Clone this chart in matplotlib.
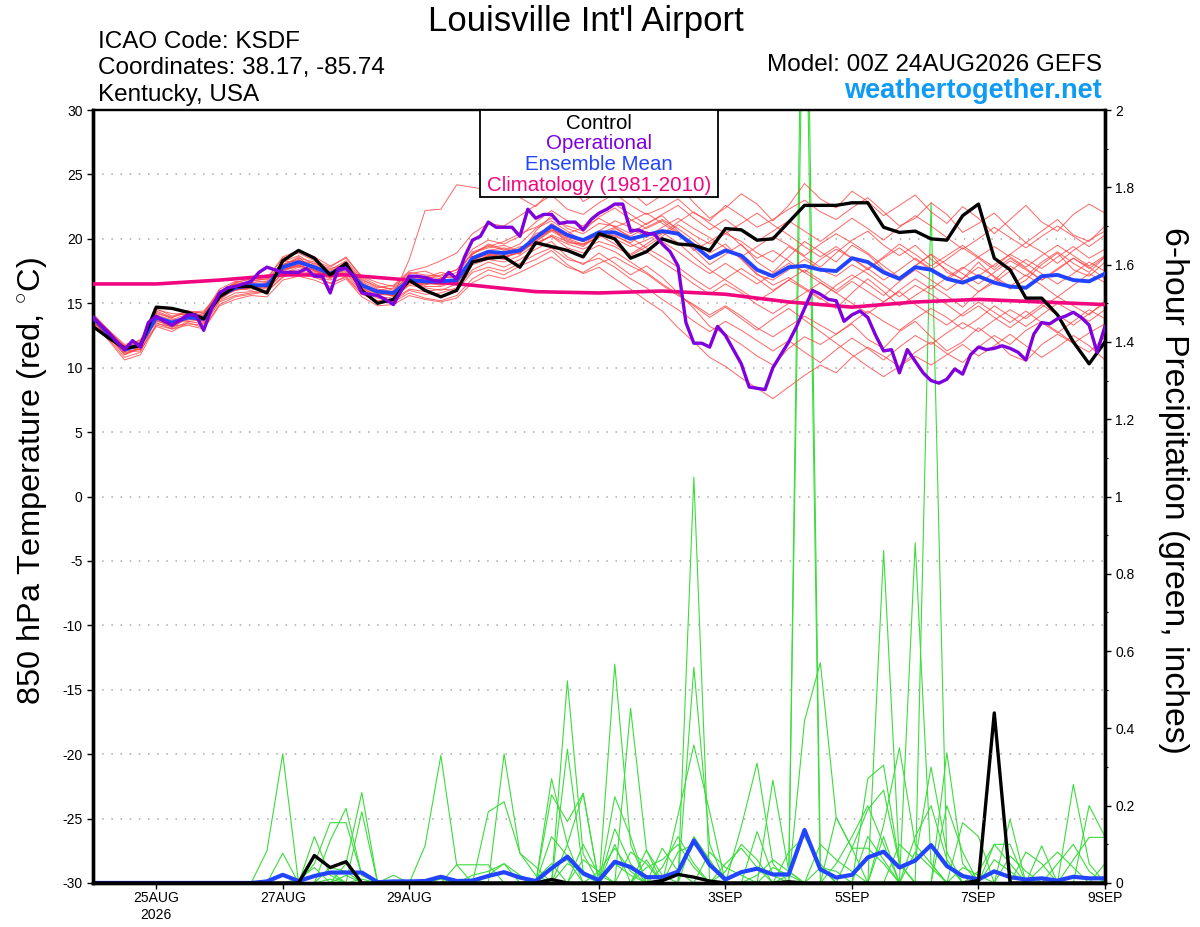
import numpy as np
import matplotlib
matplotlib.use("Agg")
import matplotlib.pyplot as plt
from matplotlib.patches import Rectangle
from matplotlib.ticker import FuncFormatter, MultipleLocator

plt.rcParams["font.family"] = ["Liberation Sans", "DejaVu Sans"]
plt.rcParams["mathtext.fontset"] = "custom"
plt.rcParams["mathtext.rm"] = "Liberation Sans"
plt.rcParams["axes.unicode_minus"] = False

# forecast hours from 00Z 24AUG2026
hours6 = np.arange(0, 385, 6)
hours3 = np.arange(0, 385, 3)
clim_hours = np.arange(0, 385, 24)

tick_hours = [24, 72, 120, 192, 240, 288, 336, 384]
tick_labels = ["25AUG\n2026", "27AUG", "29AUG", "1SEP", "3SEP", "5SEP", "7SEP", "9SEP"]

# 850 hPa temperature (C)
control_t = [
    13.2, 12.3, 11.5, 11.7, 14.7, 14.6, 14.3, 13.8, 15.5, 16.3, 16.3, 15.8, 18.3,
    19.1, 18.5, 17.2, 18.1, 16.0, 15.0, 15.3, 16.8, 16.0, 15.5, 16.0, 18.2, 18.5,
    18.6, 17.8, 19.7, 19.4, 19.1, 18.6, 20.4, 20.0, 18.5, 19.0, 20.0, 19.6, 19.5,
    19.1, 20.8, 20.7, 19.9, 20.0, 21.3, 22.6, 22.6, 22.6, 22.8, 22.8, 20.9, 20.5,
    20.6, 20.0, 19.9, 21.8, 22.7, 18.5, 17.6, 15.4, 15.4, 14.1, 12.0, 10.3, 12.0,
]
mean_t = [
    13.9, 12.6, 11.4, 11.8, 13.9, 13.5, 13.9, 13.8, 15.6, 16.2, 16.4, 16.4, 17.8,
    18.2, 17.8, 17.3, 17.8, 16.4, 15.9, 15.8, 16.8, 16.7, 16.7, 16.8, 18.5, 19.0,
    18.9, 19.1, 20.1, 21.0, 20.3, 19.9, 20.5, 20.5, 20.0, 20.3, 20.6, 20.4, 19.5,
    18.5, 19.1, 18.7, 17.6, 17.1, 17.8, 17.9, 17.6, 17.5, 18.5, 18.2, 17.4, 16.9,
    17.8, 17.6, 16.9, 16.6, 17.1, 16.6, 16.3, 16.2, 17.1, 17.2, 16.8, 16.7, 17.3,
]
oper_t = [
    13.9, 13.3, 12.7, 12.0, 11.4, 12.1, 11.6, 13.5,
    14.0, 13.6, 13.3, 13.7, 14.1, 14.1, 12.9, 14.6,
    15.8, 16.2, 16.3, 16.5, 16.7, 17.4, 17.8, 17.6,
    17.4, 17.4, 17.4, 17.7, 17.1, 17.1, 15.8, 17.7,
    17.7, 17.1, 15.8, 15.7, 15.6, 15.3, 14.9, 16.0,
    17.1, 17.1, 17.0, 16.8, 16.7, 17.4, 16.9, 18.6,
    19.9, 20.2, 21.3, 20.9, 20.9, 20.9, 20.2, 22.3,
    21.6, 21.9, 21.9, 21.2, 21.3, 21.3, 20.7, 21.5,
    22.0, 22.3, 22.7, 22.7, 20.6, 20.7, 20.4, 20.4,
    19.6, 19.0, 17.9, 13.5, 11.9, 11.9, 11.6, 13.2,
    12.5, 11.4, 10.3, 8.5, 8.4, 8.3, 10.0, 11.0,
    12.0, 13.2, 14.6, 16.0, 15.7, 15.3, 15.2, 13.6,
    14.1, 14.4, 13.9, 12.5, 11.3, 11.4, 9.6, 11.4,
    10.5, 9.6, 9.0, 8.8, 9.1, 9.9, 9.5, 11.0,
    11.6, 11.4, 11.5, 11.7, 11.5, 11.2, 10.6, 12.6,
    13.5, 13.4, 13.8, 14.0, 14.3, 13.9, 13.3, 11.2,
    13.2,
]
clim_t = [16.5, 16.5, 16.8, 17.2, 17.2, 16.8, 16.4, 15.9, 15.8,
          15.95, 15.7, 15.1, 14.7, 15.1, 15.3, 15.1, 14.9]

members_t = [
    [13.6, 12.4, 11.0, 11.5, 14.2, 13.9, 14.4, 14.0, 15.9, 16.6, 16.9, 16.8, 18.2,
     18.7, 18.0, 17.6, 18.3, 16.9, 16.2, 16.4, 17.5, 17.8, 18.3, 18.9, 20.4, 21.2,
     21.0, 21.8, 22.6, 23.4, 22.3, 21.9, 22.8, 23.5, 22.6, 21.9, 22.4, 23.1, 22.0,
     21.4, 22.6, 21.8, 20.9, 21.5, 22.3, 23.0, 22.1, 21.5, 22.4, 23.2, 22.1, 21.0,
     21.6, 22.8, 21.9, 20.5, 21.2, 22.0, 20.8, 19.7, 20.6, 21.5, 20.3, 19.8, 21.0],
    [14.1, 12.8, 11.7, 12.0, 13.5, 13.0, 13.6, 13.4, 15.2, 15.8, 15.9, 16.0, 17.4,
     17.6, 17.2, 16.5, 17.1, 15.8, 15.0, 15.2, 16.0, 15.7, 15.8, 16.2, 17.6, 18.2,
     17.8, 18.4, 19.2, 19.8, 18.6, 18.0, 18.9, 18.1, 17.2, 17.9, 17.0, 15.8, 14.6,
     13.2, 12.6, 11.8, 10.9, 10.2, 11.5, 12.4, 11.8, 12.6, 13.4, 12.2, 11.5, 12.8,
     13.6, 12.4, 11.3, 12.0, 13.1, 12.2, 11.0, 10.5, 11.8, 12.6, 11.9, 11.2, 12.4],
    [13.8, 12.2, 10.8, 11.2, 13.8, 13.2, 13.8, 14.2, 15.5, 16.0, 16.6, 16.2, 17.9,
     18.6, 17.5, 17.0, 18.0, 16.2, 15.5, 15.4, 16.4, 16.2, 16.0, 16.5, 18.8, 19.6,
     19.2, 18.8, 20.6, 21.8, 20.8, 20.4, 21.2, 21.0, 20.4, 21.2, 21.8, 20.6, 19.2,
     18.0, 18.8, 19.6, 18.2, 17.4, 18.6, 19.8, 19.0, 18.2, 19.5, 18.8, 17.6, 16.8,
     17.9, 18.8, 17.4, 16.9, 18.2, 17.0, 16.1, 16.8, 18.0, 18.9, 17.6, 17.1, 18.2],
    [13.5, 12.6, 11.2, 11.9, 14.0, 13.6, 14.0, 13.9, 15.8, 16.5, 16.4, 16.2, 17.6,
     18.0, 17.9, 17.5, 18.1, 16.6, 15.8, 15.6, 18.4, 22.2, 22.3, 24.2, 24.0, 23.8,
     24.6, 23.2, 22.5, 23.8, 24.5, 22.9, 23.6, 24.8, 23.7, 22.6, 23.4, 24.2, 22.8,
     21.6, 22.4, 23.5, 22.7, 21.4, 22.6, 24.3, 23.1, 22.4, 23.7, 22.9, 21.8, 22.6,
     23.4, 22.1, 21.2, 22.5, 21.6, 20.4, 21.5, 22.6, 21.3, 20.6, 21.9, 22.7, 22.0],
    [14.0, 12.7, 11.6, 11.4, 13.2, 12.8, 13.5, 13.1, 14.9, 15.5, 15.7, 15.9, 17.0,
     17.5, 17.1, 16.8, 17.3, 15.9, 15.4, 15.1, 15.8, 15.4, 15.2, 15.6, 16.9, 17.6,
     17.2, 17.9, 18.4, 19.1, 18.0, 17.3, 17.8, 16.9, 16.1, 15.2, 14.4, 13.1, 12.0,
     10.8, 10.1, 9.2, 8.4, 7.6, 8.5, 9.4, 10.2, 9.6, 10.8, 11.6, 10.9, 10.1,
     11.2, 12.0, 11.1, 10.4, 11.6, 12.5, 11.8, 12.9, 13.6, 12.8, 11.9, 12.7, 13.4],
    [13.7, 12.5, 11.3, 11.8, 14.5, 14.2, 14.1, 13.6, 15.4, 16.4, 16.7, 16.9, 18.5,
     18.9, 18.3, 17.8, 18.6, 17.0, 16.4, 16.0, 17.2, 17.0, 17.4, 17.1, 19.0, 19.4,
     19.8, 20.4, 20.9, 21.6, 21.0, 20.6, 21.7, 22.4, 21.5, 20.8, 21.4, 20.5, 19.6,
     18.4, 19.2, 18.5, 17.3, 16.4, 17.0, 16.2, 15.4, 14.6, 15.8, 16.9, 15.9, 14.8,
     15.6, 16.4, 15.6, 14.7, 15.9, 16.8, 17.9, 17.1, 18.2, 19.0, 18.1, 17.4, 18.6],
    [14.2, 12.9, 11.5, 12.2, 14.0, 13.4, 13.7, 14.1, 16.0, 16.0, 16.2, 16.6, 17.5,
     17.9, 17.6, 17.0, 17.4, 16.1, 15.6, 15.9, 16.6, 16.4, 16.9, 17.2, 18.2, 18.6,
     18.4, 19.3, 19.7, 20.2, 19.6, 19.2, 19.8, 19.4, 18.7, 19.4, 20.2, 21.1, 20.3,
     19.6, 20.4, 19.8, 18.9, 18.2, 19.4, 18.6, 17.8, 18.9, 19.9, 20.6, 19.5, 18.7,
     19.5, 18.4, 17.6, 16.8, 15.9, 16.6, 17.5, 18.4, 17.7, 18.6, 19.4, 18.5, 19.2],
    [13.9, 12.3, 11.1, 11.6, 13.7, 13.1, 13.9, 13.5, 15.6, 16.2, 16.0, 16.4, 18.0,
     18.4, 17.9, 17.1, 17.6, 16.6, 15.9, 15.7, 16.9, 16.6, 16.4, 16.9, 18.4, 18.8,
     18.6, 19.0, 20.4, 20.9, 19.7, 19.6, 20.1, 20.8, 20.2, 20.9, 21.5, 20.8, 19.9,
     18.9, 19.6, 18.4, 17.2, 16.8, 17.6, 18.4, 17.6, 17.1, 18.0, 17.3, 16.4, 15.5,
     16.4, 15.7, 14.9, 14.0, 14.8, 13.9, 13.1, 14.0, 14.9, 14.1, 13.3, 14.2, 15.0],
    [13.4, 12.1, 10.6, 11.0, 13.3, 13.0, 13.3, 13.0, 14.8, 15.3, 15.6, 15.5, 16.8,
     17.1, 16.8, 16.3, 16.9, 15.5, 14.8, 14.9, 15.6, 15.3, 15.1, 15.4, 16.6, 17.2,
     16.9, 17.4, 18.0, 18.6, 17.8, 17.4, 18.1, 18.6, 17.9, 17.3, 16.4, 15.6, 14.9,
     14.1, 14.8, 14.0, 13.1, 12.4, 13.2, 14.0, 13.3, 12.6, 13.5, 14.4, 13.6, 12.9,
     13.8, 14.6, 13.9, 13.0, 13.8, 14.8, 14.0, 13.2, 14.1, 15.0, 14.3, 13.6, 14.5],
    [13.6, 12.6, 11.4, 11.7, 14.1, 13.7, 14.2, 14.3, 15.7, 16.3, 16.8, 16.6, 17.7,
     18.1, 17.7, 17.4, 18.2, 16.7, 16.1, 15.9, 16.9, 17.1, 16.9, 17.4, 18.9, 19.3,
     19.5, 19.0, 20.0, 21.2, 20.4, 20.9, 21.6, 20.9, 21.4, 22.0, 21.2, 20.4, 19.1,
     19.8, 20.6, 19.5, 18.5, 19.1, 18.3, 17.4, 18.4, 19.2, 18.5, 17.7, 18.6, 19.6,
     18.8, 17.9, 18.7, 19.5, 18.6, 17.8, 18.8, 19.7, 19.0, 18.1, 19.1, 19.9, 20.6],
    [14.0, 12.9, 11.8, 12.1, 13.6, 13.3, 13.8, 13.8, 15.3, 16.1, 16.3, 16.1, 17.3,
     17.8, 17.4, 16.9, 17.7, 16.3, 16.0, 15.5, 16.5, 16.5, 16.6, 16.5, 18.1, 18.7,
     18.9, 19.4, 19.5, 20.3, 19.8, 19.4, 20.3, 20.0, 19.4, 19.9, 20.5, 19.7, 18.6,
     17.6, 16.8, 16.0, 15.2, 15.9, 16.8, 16.1, 15.3, 16.4, 17.2, 16.5, 15.6, 16.7,
     17.6, 16.8, 16.0, 16.9, 17.8, 17.1, 16.3, 17.2, 16.4, 15.5, 16.4, 17.3, 16.6],
    [13.9, 12.7, 11.3, 11.9, 14.3, 13.8, 13.6, 13.7, 15.9, 16.5, 16.6, 16.7, 18.2,
     18.3, 18.1, 17.7, 18.0, 16.8, 16.3, 16.1, 17.0, 16.9, 17.2, 17.6, 18.8, 19.5,
     19.1, 19.6, 20.8, 21.4, 20.6, 19.8, 20.6, 21.4, 20.9, 20.1, 20.9, 21.6, 20.8,
     20.1, 19.3, 18.6, 19.4, 20.2, 19.5, 18.7, 19.6, 20.4, 19.7, 18.9, 17.9, 17.0,
     17.9, 18.8, 18.0, 17.3, 16.5, 17.4, 18.3, 17.6, 16.8, 17.7, 18.5, 17.8, 16.9],
    [13.8, 12.5, 11.2, 11.3, 13.4, 13.2, 13.4, 13.3, 15.1, 15.6, 15.8, 15.9, 17.1,
     17.3, 17.0, 16.6, 17.0, 15.7, 15.2, 15.3, 16.1, 15.9, 16.1, 16.0, 17.4, 17.8,
     17.5, 18.1, 18.8, 19.3, 18.4, 18.1, 18.5, 17.8, 16.9, 16.2, 15.3, 14.5, 13.6,
     12.8, 13.6, 12.9, 12.1, 11.3, 12.1, 11.2, 10.4, 11.4, 12.3, 11.5, 10.6, 11.6,
     12.5, 11.8, 12.7, 13.5, 12.8, 13.7, 14.5, 13.8, 14.7, 15.5, 14.8, 14.1, 15.2],
    [13.5, 12.4, 11.5, 11.8, 14.6, 14.0, 14.4, 14.2, 16.1, 16.7, 16.5, 16.3, 18.0,
     18.5, 18.2, 17.3, 17.9, 16.5, 16.0, 16.2, 17.3, 17.5, 17.0, 17.0, 18.6, 19.1,
     19.3, 18.9, 19.8, 20.7, 20.2, 19.9, 20.6, 20.2, 19.7, 20.6, 19.8, 19.0, 18.1,
     17.3, 18.1, 17.3, 16.5, 17.3, 18.1, 17.4, 16.6, 15.8, 16.7, 15.9, 15.1, 16.0,
     16.9, 16.1, 17.0, 17.8, 17.1, 18.0, 18.8, 18.1, 17.3, 16.5, 17.3, 18.2, 17.5],
    [14.1, 12.6, 11.4, 11.7, 13.8, 13.5, 13.9, 13.9, 15.5, 16.0, 16.3, 16.5, 17.7,
     18.0, 17.5, 17.2, 17.7, 16.4, 15.7, 15.8, 16.7, 16.5, 16.5, 16.6, 18.3, 18.9,
     18.7, 19.2, 20.0, 20.7, 20.0, 19.6, 20.4, 20.9, 20.1, 19.3, 18.6, 17.8, 16.9,
     16.1, 16.9, 17.7, 16.9, 16.0, 16.8, 17.6, 16.8, 16.0, 16.9, 17.7, 16.8, 17.6,
     18.5, 17.7, 16.8, 17.7, 18.6, 19.4, 18.6, 17.8, 18.7, 19.5, 18.7, 17.9, 18.7],
    [13.7, 12.8, 11.6, 12.0, 13.9, 13.3, 14.0, 13.7, 15.7, 16.3, 16.5, 16.4, 17.9,
     18.2, 17.8, 17.3, 17.8, 16.4, 16.0, 15.8, 16.8, 16.8, 16.7, 16.8, 18.5, 19.0,
     18.9, 19.1, 20.1, 21.0, 20.3, 19.9, 20.5, 20.5, 20.0, 20.3, 20.6, 20.4, 19.5,
     18.5, 19.1, 18.7, 17.6, 17.1, 17.8, 17.9, 17.6, 17.5, 18.5, 18.2, 17.4, 16.9,
     17.8, 17.6, 16.9, 16.6, 17.1, 16.6, 16.3, 16.2, 17.1, 17.2, 16.8, 16.7, 17.3],
    [13.8, 12.5, 11.0, 11.6, 14.0, 13.6, 13.8, 13.6, 15.3, 16.1, 16.4, 16.3, 17.6,
     17.9, 17.6, 17.0, 17.5, 16.2, 15.7, 15.6, 16.6, 16.3, 16.3, 16.7, 18.0, 18.4,
     18.2, 18.7, 19.6, 20.2, 19.3, 18.9, 19.5, 19.0, 18.2, 17.4, 16.5, 15.7, 14.8,
     13.9, 14.7, 13.8, 12.9, 13.8, 14.6, 13.7, 12.8, 11.9, 11.0, 10.1, 9.3, 10.1,
     10.9, 10.2, 11.0, 11.8, 10.9, 11.7, 12.6, 11.7, 10.8, 11.6, 12.5, 11.7, 10.6],
    [13.6, 12.3, 11.3, 11.4, 14.4, 13.9, 14.3, 14.4, 15.8, 16.6, 16.9, 16.9, 18.6,
     19.1, 18.6, 17.9, 18.5, 17.1, 16.6, 16.3, 17.4, 17.2, 17.1, 17.6, 19.2, 19.9,
     19.6, 20.2, 21.3, 22.2, 21.4, 21.0, 21.9, 22.7, 21.9, 21.1, 21.9, 22.6, 21.6,
     20.7, 21.5, 20.6, 19.8, 20.6, 21.4, 20.6, 19.8, 20.7, 21.6, 20.8, 19.9, 20.9,
     21.8, 21.0, 20.1, 19.2, 20.0, 20.9, 20.1, 19.3, 20.2, 21.0, 20.2, 19.4, 20.3],
    [14.0, 12.8, 11.4, 11.9, 13.7, 13.4, 13.8, 13.9, 15.6, 16.2, 16.3, 16.4, 17.8,
     18.1, 17.8, 17.4, 17.9, 16.5, 15.9, 15.9, 16.8, 16.6, 16.5, 16.9, 18.4, 18.8,
     18.5, 19.0, 19.9, 20.8, 20.1, 19.8, 20.3, 19.6, 18.8, 19.6, 20.4, 21.3, 22.1,
     21.2, 20.4, 21.2, 22.0, 21.1, 20.3, 19.4, 18.6, 19.4, 18.5, 17.6, 18.5, 19.3,
     18.4, 17.6, 18.4, 19.3, 18.5, 17.6, 18.5, 17.7, 16.8, 17.6, 18.5, 17.7, 18.6],
    [13.9, 12.6, 11.7, 11.8, 13.9, 13.5, 13.9, 13.8, 15.5, 16.1, 16.2, 16.3, 17.6,
     17.9, 17.6, 17.2, 17.7, 16.3, 15.8, 15.7, 16.6, 16.5, 16.6, 16.6, 18.2, 18.7,
     18.6, 18.9, 19.8, 20.6, 19.9, 19.5, 20.2, 20.3, 19.6, 19.0, 18.2, 17.4, 16.5,
     15.7, 16.5, 15.8, 14.9, 14.2, 15.0, 15.8, 16.6, 15.8, 15.0, 14.2, 15.1, 15.9,
     14.9, 14.1, 13.3, 14.2, 15.1, 14.3, 13.5, 14.4, 13.5, 12.7, 13.6, 14.5, 13.8],
]

# 6-hour precipitation (inches)
mean_p = [
    0, 0, 0, 0, 0, 0, 0, 0, 0, 0,
    0.0, 0.004, 0.021, 0.005, 0.018, 0.027, 0.027, 0.027, 0.002, 0.004, 0.004,
    0.005, 0.016, 0.005, 0.006, 0.018, 0.028, 0.014, 0.005, 0.038, 0.068, 0.025,
    0.007, 0.055, 0.041, 0.015, 0.015, 0.029, 0.11, 0.047, 0.009, 0.028, 0.037,
    0.022, 0.022, 0.137, 0.035, 0.014, 0.021, 0.066, 0.081, 0.040, 0.058, 0.098,
    0.044, 0.018, 0.009, 0.030, 0.015, 0.009, 0.012, 0.006, 0.016, 0.012, 0.012,
]
control_p = {84: 0.071, 90: 0.040, 96: 0.055, 174: 0.009, 216: 0.006,
             222: 0.022, 228: 0.015, 234: 0.005, 264: 0.003, 336: 0.006, 342: 0.44}
members_p = [
    {66: 0.083, 72: 0.334, 126: 0.096, 132: 0.33, 138: 0.047, 180: 0.523,
     186: 0.075, 228: 1.05, 300: 0.12, 372: 0.255, 378: 0.05},
    {72: 0.077, 84: 0.12, 90: 0.02, 156: 0.334, 162: 0.077, 168: 0.02, 198: 0.566,
     204: 0.1, 228: 0.558, 234: 0.1, 270: 2.9, 276: 0.05, 330: 0.156, 336: 0.12},
    {84: 0.05, 90: 0.156, 96: 0.156, 102: 0.02, 180: 0.346, 186: 0.03, 204: 0.452,
     210: 0.085, 264: 0.02, 270: 2.6, 348: 0.165},
    {90: 0.11, 96: 0.193, 102: 0.02, 150: 0.184, 156: 0.21, 162: 0.077, 168: 0.042,
     222: 0.176, 228: 0.357, 234: 0.184, 318: 1.76, 324: 0.05},
    {96: 0.05, 102: 0.234, 174: 0.27, 180: 0.10, 186: 0.232, 198: 0.223, 204: 0.12,
     270: 0.42, 276: 0.57, 282: 0.17, 288: 0.09},
    {102: 0.184, 138: 0.047, 144: 0.047, 150: 0.047, 174: 0.228, 180: 0.159,
     186: 0.232, 246: 0.146, 252: 0.31, 258: 0.05, 300: 0.86, 306: 0.05, 360: 0.096},
    {114: 0.02, 144: 0.02, 150: 0.03, 156: 0.05, 198: 0.14, 204: 0.05, 216: 0.09,
     222: 0.03, 258: 0.266, 264: 0.03, 312: 0.88, 318: 0.05, 342: 0.1, 348: 0.1},
    {78: 0.01, 84: 0.04, 180: 0.10, 198: 0.10, 210: 0.06, 252: 0.133, 258: 0.02,
     294: 0.27, 300: 0.305, 306: 0.05, 324: 0.337, 330: 0.05},
    {84: 0.02, 90: 0.03, 168: 0.01, 174: 0.05, 186: 0.06, 192: 0.03, 222: 0.08,
     228: 0.1, 234: 0.05, 282: 0.17, 288: 0.09, 294: 0.19, 300: 0.24, 306: 0.05,
     324: 0.2, 330: 0.08},
    {90: 0.04, 96: 0.03, 180: 0.05, 186: 0.03, 210: 0.085, 216: 0.02, 240: 0.05,
     246: 0.09, 252: 0.04, 288: 0.09, 294: 0.09, 300: 0.05, 336: 0.03, 342: 0.1,
     348: 0.05, 372: 0.06, 378: 0.118, 384: 0.118},
    {96: 0.02, 132: 0.01, 144: 0.01, 174: 0.04, 180: 0.06, 198: 0.05, 204: 0.02,
     228: 0.12, 234: 0.06, 276: 0.04, 282: 0.03, 294: 0.12, 300: 0.06, 312: 0.08,
     318: 0.04, 354: 0.08, 360: 0.05, 378: 0.2, 384: 0.12},
    {150: 0.02, 156: 0.05, 162: 0.02, 192: 0.03, 198: 0.09, 204: 0.03, 240: 0.03,
     246: 0.1, 252: 0.06, 264: 0.08, 270: 0.12, 276: 0.04, 306: 0.1, 312: 0.06,
     318: 0.3, 324: 0.08, 366: 0.05, 372: 0.1, 378: 0.03},
    {90: 0.01, 102: 0.01, 186: 0.1, 192: 0.02, 210: 0.04, 216: 0.06, 222: 0.1,
     228: 0.04, 258: 0.04, 264: 0.02, 282: 0.05, 288: 0.12, 294: 0.2, 300: 0.1,
     330: 0.04, 336: 0.02, 348: 0.07, 354: 0.03},
    {174: 0.12, 180: 0.07, 186: 0.02, 216: 0.04, 222: 0.12, 228: 0.05, 252: 0.02,
     258: 0.06, 264: 0.03, 300: 0.15, 306: 0.35, 312: 0.1, 318: 0.05, 360: 0.04,
     366: 0.08, 372: 0.04},
    {204: 0.08, 210: 0.05, 234: 0.08, 240: 0.04, 246: 0.02, 276: 0.1, 282: 0.06,
     288: 0.03, 312: 0.12, 318: 0.2, 324: 0.06, 342: 0.06, 348: 0.03, 384: 0.05},
]


def expand(sparse):
    return [sparse.get(int(h), 0.0) for h in hours6]


fig = plt.figure(figsize=(12, 9.27), dpi=100)
ax = fig.add_axes([0.0775, 0.0475, 0.8433, 0.8338])
ax2 = ax.twinx()
ax.set_zorder(ax2.get_zorder() + 1)
ax.patch.set_visible(False)

# precipitation (right axis)
for m in members_p:
    ax2.plot(hours6, expand(m), color="#3cdc3c", lw=0.8, zorder=1)
ax2.plot(hours6, mean_p, color="#2244ff", lw=3, zorder=3)
ax2.plot(hours6, expand(control_p), color="black", lw=2.4, zorder=4)

# temperature (left axis)
for m in members_t:
    ax.plot(hours6, m, color="#ff4040", lw=0.7, alpha=0.8, zorder=2)
ax.plot(clim_hours, clim_t, color="#f0067f", lw=2.6, zorder=3)
ax.plot(hours6, mean_t, color="#2244ff", lw=2.8, zorder=4)
ax.plot(hours6, control_t, color="black", lw=2.4, zorder=5)
ax.plot(hours3, oper_t, color="#7f00dd", lw=2.4, zorder=6)

ax.set_xlim(0, 384)
ax.set_ylim(-30, 30)
ax2.set_ylim(0, 2)
ax.set_yticks(np.arange(-30, 31, 5))
ax2.set_yticks(np.arange(0, 2.01, 0.2))
ax2.yaxis.set_minor_locator(MultipleLocator(0.1))
ax2.yaxis.set_major_formatter(FuncFormatter(lambda v, p: f"{v:g}"))
ax.set_xticks(tick_hours)
ax.set_xticklabels(tick_labels)

for y in np.arange(-25, 30, 5):
    ax.axhline(y, color="#aaaaaa", lw=1.1, ls=(0, (1, 5)), zorder=1)

for a in (ax, ax2):
    a.tick_params(labelsize=10, length=4, width=1, direction="out")
    for s in ("left", "right", "bottom"):
        a.spines[s].set_linewidth(2.4)
    a.spines["top"].set_linewidth(1.6)
ax2.tick_params(which="minor", length=2.5, width=0.8)
ax.tick_params(axis="x", pad=2)

# legend box
ax.add_patch(Rectangle((0.3824, 0.8874), 0.2352, 0.1126, transform=ax.transAxes,
                       facecolor="white", edgecolor="black", lw=1.3, zorder=10))
legend_items = [("Control", "black"), ("Operational", "#7f00dd"),
                ("Ensemble Mean", "#2244ff"), ("Climatology (1981-2010)", "#f0067f")]
for (label, col), yy in zip(legend_items, [0.983, 0.957, 0.930, 0.902]):
    ax.text(0.5, yy, label, color=col, fontsize=14.8, ha="center", va="center",
            transform=ax.transAxes, zorder=11)

# header texts
fig.text(0.488, 0.977, "Louisville Int'l Airport", fontsize=25, ha="center", va="center")
for txt, yy in zip(["ICAO Code: KSDF", "Coordinates: 38.17, -85.74", "Kentucky, USA"],
                   [0.9545, 0.9265, 0.8975]):
    fig.text(0.0817, yy, txt, fontsize=17.5, ha="left", va="center")
fig.text(0.9183, 0.930, "Model: 00Z 24AUG2026 GEFS", fontsize=17.5, ha="right", va="center")
fig.text(0.9183, 0.9015, "weathertogether.net", fontsize=19.5, ha="right", va="center",
         color="#0f9bf5", fontweight="bold")

fig.text(0.0275, 1 - 481 / 927, r"850 hPa Temperature (red, $^{\circ}$C)", fontsize=23.4,
         rotation=90, ha="center", va="center")
fig.text(0.978, 1 - 490 / 927, "6-hour Precipitation (green, inches)", fontsize=24.3,
         rotation=-90, ha="center", va="center")

fig.savefig("out.png", dpi=100, facecolor="white")
